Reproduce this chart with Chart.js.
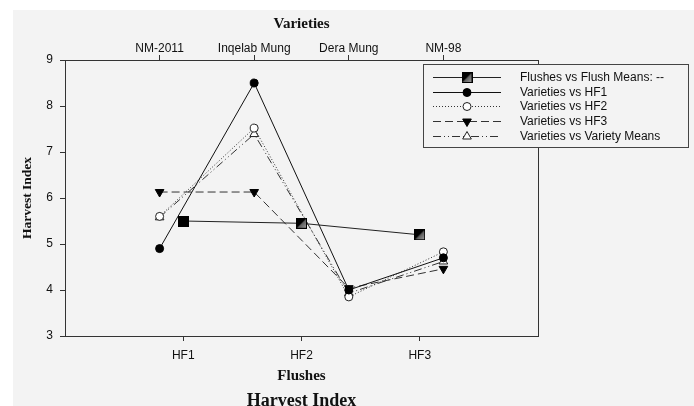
<!DOCTYPE html>
<html>
<head>
<meta charset="utf-8">
<title>Harvest Index</title>
<script src="https://cdn.jsdelivr.net/npm/chart.js@4.4.1/dist/chart.umd.min.js"></script>
<style>
  body { margin: 0; background: #fff; }
  canvas { display: block; }
</style>
</head>
<body>
<canvas id="chart" width="694" height="406"></canvas>
<script>
const flushes = ["HF1", "HF2", "HF3"];
const varieties = ["NM-2011", "Inqelab Mung", "Dera Mung", "NM-98"];
const flushMeans = [5.5, 5.45, 5.2];
const hf1 = [4.9, 8.5, 4.0, 4.7];
const hf2 = [5.6, 7.52, 3.85, 4.83];
const hf3 = [6.13, 6.13, 4.04, 4.46];
const varietyMeans = [5.58, 7.39, 3.93, 4.62];
const yTicks = [3, 4, 5, 6, 7, 8, 9];

const sans = "'Liberation Sans', Arial, sans-serif";
const serif = "'Liberation Serif', 'Times New Roman', serif";

const toPoints = arr => arr.map((v, i) => ({ x: i + 1, y: v }));

// square marker, the shaded one has a grey lower-right half
function squareMarker(shaded) {
  const c = document.createElement("canvas");
  c.width = 11;
  c.height = 11;
  const g = c.getContext("2d");
  g.fillStyle = "#000";
  g.fillRect(0, 0, 11, 11);
  if (shaded) {
    const grad = g.createLinearGradient(3, 3, 10, 10);
    grad.addColorStop(0, "#333");
    grad.addColorStop(1, "#999");
    g.fillStyle = grad;
    g.beginPath();
    g.moveTo(10, 1);
    g.lineTo(10, 10);
    g.lineTo(1, 10);
    g.closePath();
    g.fill();
  }
  return c;
}
const solidSq = squareMarker(false);
const shadedSq = squareMarker(true);

const background = {
  id: "background",
  beforeDraw(chart) {
    const ctx = chart.ctx;
    ctx.save();
    ctx.fillStyle = "#fff";
    ctx.fillRect(0, 0, chart.width, chart.height);
    ctx.fillStyle = "#f3f3f3";
    ctx.fillRect(13, 10, chart.width - 13, chart.height - 10);
    ctx.restore();
  },
  beforeDatasetsDraw(chart) {
    const { left, top, right, bottom } = chart.chartArea;
    const ctx = chart.ctx;
    ctx.save();
    ctx.strokeStyle = "#333";
    ctx.lineWidth = 1;
    ctx.strokeRect(Math.round(left) + 0.5, Math.round(top) + 0.5, Math.round(right - left), Math.round(bottom - top));
    ctx.restore();
  }
};

const boxLegend = {
  id: "boxLegend",
  afterDraw(chart) {
    const ctx = chart.ctx;
    const legendStyles = [shadedSq, "circle", "circle", "triangle", "triangle"];
    ctx.save();
    ctx.fillStyle = "#f3f3f3";
    ctx.fillRect(423, 64, 265, 83);
    ctx.strokeStyle = "#444";
    ctx.lineWidth = 1;
    ctx.strokeRect(423.5, 64.5, 265, 83);
    chart.data.datasets.forEach((ds, i) => {
      const y = Math.round(77 + i * 14.7) + 0.5;
      ctx.strokeStyle = ds.borderColor;
      ctx.lineWidth = 1;
      ctx.setLineDash(ds.borderDash || []);
      ctx.beginPath();
      ctx.moveTo(433, y);
      ctx.lineTo(501, y);
      ctx.stroke();
      ctx.setLineDash([]);
      ctx.fillStyle = ds.pointBackgroundColor || "#000";
      ctx.strokeStyle = ds.pointBorderColor || "#000";
      Chart.helpers.drawPoint(ctx, {
        pointStyle: legendStyles[i],
        radius: ds.legendRadius,
        rotation: ds.pointRotation || 0,
        borderWidth: 1
      }, 467, y);
      ctx.fillStyle = "#111";
      ctx.font = "12px " + sans;
      ctx.textBaseline = "middle";
      ctx.textAlign = "left";
      ctx.fillText(ds.label, 520, y);
    });
    ctx.restore();
  }
};

new Chart(document.getElementById("chart"), {
  type: "line",
  data: {
    datasets: [
      {
        label: "Flushes vs Flush Means: --",
        data: toPoints(flushMeans),
        xAxisID: "x",
        borderColor: "#222",
        borderWidth: 1,
        pointStyle: [solidSq, shadedSq, shadedSq],
        pointRadius: 6,
        legendRadius: 6,
        pointBackgroundColor: "#000",
        pointBorderColor: "#000"
      },
      {
        label: "Varieties vs HF1",
        data: toPoints(hf1),
        xAxisID: "x2",
        borderColor: "#111",
        borderWidth: 1,
        pointStyle: "circle",
        pointRadius: 4,
        legendRadius: 4,
        pointBackgroundColor: "#000",
        pointBorderColor: "#000"
      },
      {
        label: "Varieties vs HF2",
        data: toPoints(hf2),
        xAxisID: "x2",
        borderColor: "#333",
        borderWidth: 1,
        borderDash: [1, 2],
        pointStyle: "circle",
        pointRadius: 4,
        legendRadius: 4,
        pointBackgroundColor: "#fff",
        pointBorderColor: "#222"
      },
      {
        label: "Varieties vs HF3",
        data: toPoints(hf3),
        xAxisID: "x2",
        borderColor: "#333",
        borderWidth: 1,
        borderDash: [8, 4],
        pointStyle: "triangle",
        pointRotation: 180,
        pointRadius: 5,
        legendRadius: 5,
        pointBackgroundColor: "#000",
        pointBorderColor: "#000"
      },
      {
        label: "Varieties vs Variety Means",
        data: toPoints(varietyMeans),
        xAxisID: "x2",
        borderColor: "#333",
        borderWidth: 1,
        borderDash: [8, 3, 1, 3, 1, 3],
        pointStyle: "triangle",
        pointRadius: 5,
        legendRadius: 5,
        pointBackgroundColor: "#fff",
        pointBorderColor: "#222"
      }
    ]
  },
  options: {
    responsive: false,
    animation: false,
    devicePixelRatio: 1,
    layout: { padding: { left: 0, top: 0, right: 156, bottom: 0 } },
    elements: { line: { tension: 0, fill: false } },
    plugins: {
      legend: { display: false },
      tooltip: { enabled: false },
      title: {
        display: true,
        text: "Harvest Index",
        position: "bottom",
        fullSize: false,
        color: "#111",
        font: { family: serif, size: 18, weight: "bold", lineHeight: 0.55 },
        padding: { top: 0, bottom: 0 }
      }
    },
    scales: {
      x: {
        type: "linear",
        position: "bottom",
        min: 0,
        max: flushes.length + 1,
        afterBuildTicks: s => { s.ticks = flushes.map((_, i) => ({ value: i + 1 })); },
        afterFit: s => { s.height = 60.1; },
        ticks: {
          callback: v => flushes[v - 1] || "",
          color: "#111",
          padding: 7,
          maxRotation: 0,
          font: { family: sans, size: 12 }
        },
        grid: { drawOnChartArea: false, tickLength: 5, color: "#333" },
        border: { color: "#333" },
        title: {
          display: true,
          text: "Flushes",
          color: "#111",
          font: { family: serif, size: 15, weight: "bold" },
          padding: { top: 0, bottom: 11 }
        }
      },
      x2: {
        type: "linear",
        position: "top",
        min: 0,
        max: varieties.length + 1,
        afterBuildTicks: s => { s.ticks = varieties.map((_, i) => ({ value: i + 1 })); },
        afterFit: s => { s.height = 60; },
        ticks: {
          callback: v => varieties[v - 1] || "",
          color: "#111",
          padding: -1,
          maxRotation: 0,
          autoSkip: false,
          font: { family: sans, size: 12 }
        },
        grid: { drawOnChartArea: false, tickLength: 5, color: "#333" },
        border: { color: "#333" },
        title: {
          display: true,
          text: "Varieties",
          color: "#111",
          font: { family: serif, size: 15, weight: "bold" },
          padding: { top: 15, bottom: 0 }
        }
      },
      y: {
        min: yTicks[0],
        max: yTicks[yTicks.length - 1],
        afterBuildTicks: s => { s.ticks = yTicks.map(v => ({ value: v })); },
        afterFit: s => { s.width = 65; },
        ticks: {
          color: "#111",
          padding: 7,
          font: { family: sans, size: 12 }
        },
        grid: { drawOnChartArea: false, tickLength: 5, color: "#333" },
        border: { color: "#333" },
        title: {
          display: true,
          text: "Harvest Index",
          color: "#111",
          font: { family: serif, size: 13.5, weight: "bold" },
          padding: { top: 19, bottom: 0 }
        }
      }
    }
  },
  plugins: [background, boxLegend]
});
</script>
</body>
</html>
